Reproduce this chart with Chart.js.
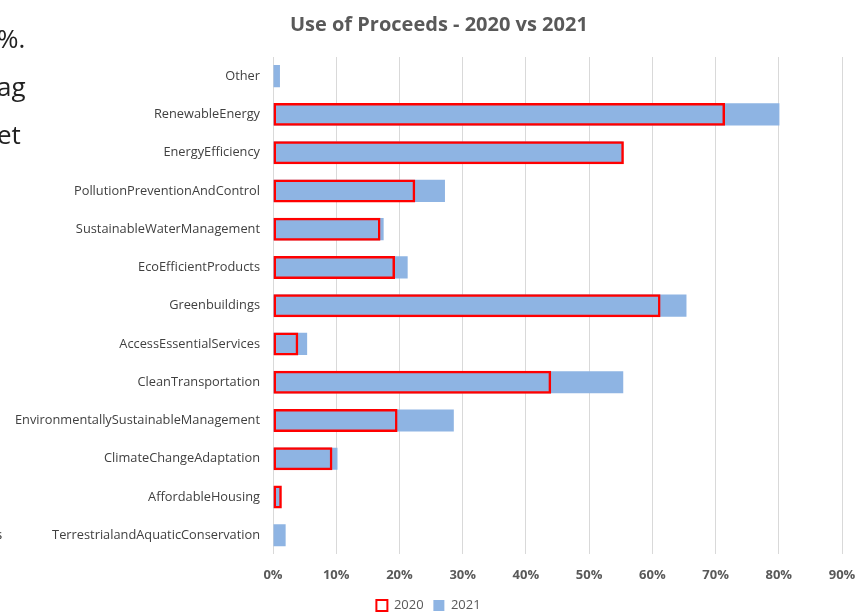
<!DOCTYPE html>
<html>
<head>
<meta charset="utf-8">
<script src="https://cdn.jsdelivr.net/npm/chart.js@4/dist/chart.umd.min.js"></script>
<style>
  html, body { margin: 0; padding: 0; background: #fff; }
  #wrap { position: relative; width: 857px; height: 613px; overflow: hidden; }
  #proceedsChart { position: absolute; left: 0; top: 0; }
  .frag { position: absolute; font-family: "Open Sans", sans-serif; color: #222; white-space: nowrap; }
</style>
</head>
<body>
<div id="wrap">
  <canvas id="proceedsChart" width="857" height="613"></canvas>
  <!-- bits of the surrounding page text, cut at the left edge -->
  <span class="frag" style="left:-3px; top:20px; font-size:26px;">%.</span>
  <span class="frag" style="left:-3px; top:68px; font-size:26px;">ag</span>
  <span class="frag" style="left:-3px; top:116px; font-size:26px;">et</span>
  <span class="frag" style="left:-4px; top:525px; font-size:13px;">s</span>
</div>
<script>
// Use of proceeds by category, share of total (%)
const categories = [
  'Other',
  'RenewableEnergy',
  'EnergyEfficiency',
  'PollutionPreventionAndControl',
  'SustainableWaterManagement',
  'EcoEfficientProducts',
  'Greenbuildings',
  'AccessEssentialServices',
  'CleanTransportation',
  'EnvironmentallySustainableManagement',
  'ClimateChangeAdaptation',
  'AffordableHousing',
  'TerrestrialandAquaticConservation'
];
const values2020 = [0, 71.5, 55.5, 22.5, 17.0, 19.3, 61.3, 4.0, 44.0, 19.7, 9.4, 1.4, 0];
const values2021 = [1.1, 80.1, 55.3, 27.2, 17.5, 21.3, 65.4, 5.4, 55.4, 28.6, 10.2, 1.2, 2.0];
const xTicks = [0, 10, 20, 30, 40, 50, 60, 70, 80, 90];

const FONT = '"Open Sans", sans-serif';

const ctx = document.getElementById('proceedsChart');
new Chart(ctx, {
  type: 'bar',
  data: {
    labels: categories,
    datasets: [
      {
        label: '2020',
        data: values2020,
        backgroundColor: 'rgba(0,0,0,0)',
        borderColor: '#ff0000',
        borderWidth: 2.5,
        borderSkipped: false,
        barPercentage: 0.6,
        categoryPercentage: 1
      },
      {
        label: '2021',
        data: values2021,
        backgroundColor: '#8eb4e3',
        borderWidth: 0,
        barPercentage: 0.58,
        categoryPercentage: 1
      }
    ]
  },
  options: {
    indexAxis: 'y',
    responsive: false,
    animation: false,
    grouped: false,
    layout: { padding: { left: 0, right: 0, top: 0, bottom: -9 } },
    plugins: {
      title: {
        display: true,
        // leading spaces nudge the centred title a little to the right
        text: '    Use of Proceeds - 2020 vs 2021',
        color: '#595959',
        font: { family: FONT, size: 20, weight: 'bold' },
        padding: { top: 13, bottom: 20 }
      },
      legend: {
        position: 'bottom',
        labels: {
          color: '#595959',
          font: { family: FONT, size: 13 },
          boxWidth: 11,
          boxHeight: 11,
          padding: 3,
          // trailing spaces keep the two entries apart with the tight padding
          generateLabels: (chart) => chart.data.datasets.map((ds, i) => ({
            text: i === 0 ? ds.label + '  ' : ds.label,
            fillStyle: i === 0 ? '#ffffff' : ds.backgroundColor,
            strokeStyle: i === 0 ? '#ff0000' : ds.backgroundColor,
            lineWidth: i === 0 ? 2 : 0,
            fontColor: '#595959',
            datasetIndex: i
          }))
        }
      },
      tooltip: { enabled: false }
    },
    scales: {
      x: {
        min: 0,
        max: 90,
        afterBuildTicks: (axis) => { axis.ticks = xTicks.map(v => ({ value: v })); },
        afterFit: (axis) => { axis.paddingRight = 15; },
        grid: { color: '#d9d9d9', lineWidth: 1, drawTicks: false },
        border: { display: false },
        ticks: {
          color: '#595959',
          font: { family: FONT, size: 13, weight: 'bold' },
          padding: 13,
          callback: (v) => v + '%'
        }
      },
      y: {
        grid: { display: false, drawTicks: false },
        border: { display: false },
        ticks: {
          color: '#404040',
          font: { family: FONT, size: 12.8 },
          padding: 13
        },
        afterFit: (axis) => { axis.width = 273; }
      }
    }
  }
});
</script>
</body>
</html>
